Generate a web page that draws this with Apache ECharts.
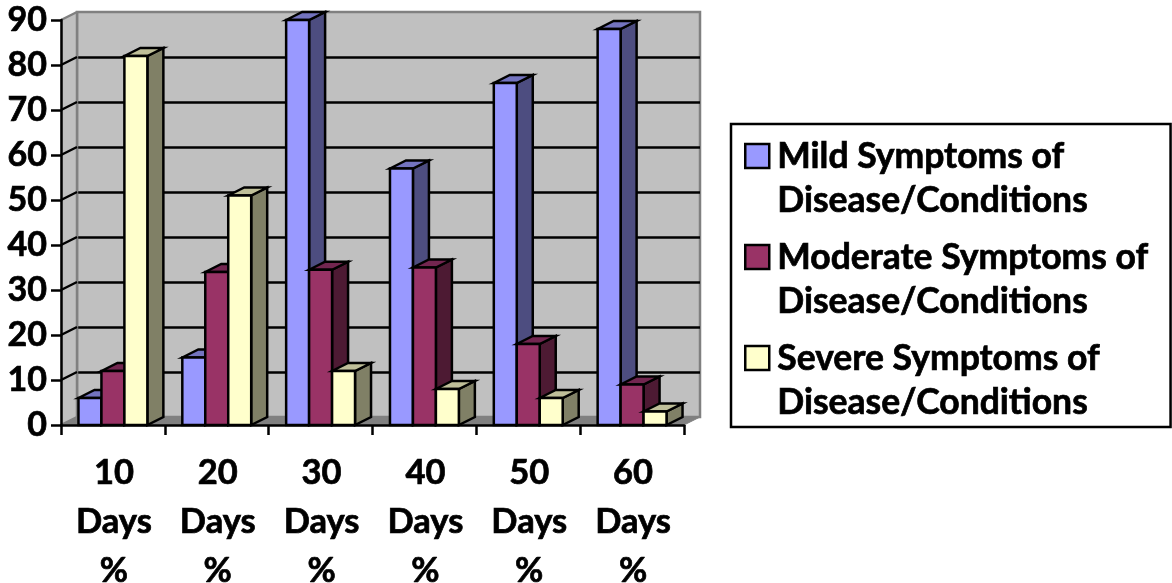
<!DOCTYPE html>
<html>
<head>
<meta charset="utf-8">
<title>Symptoms by days</title>
<script src="https://cdn.jsdelivr.net/npm/echarts@6/dist/echarts.min.js"></script>
<style>
  html, body { margin: 0; background: #fff; }
  #chart { width: 1172px; height: 583px; }
</style>
</head>
<body>
<div id="chart"></div>
<script>
var categories = ['10\nDays\n%', '20\nDays\n%', '30\nDays\n%', '40\nDays\n%', '50\nDays\n%', '60\nDays\n%'];
var mild = [6, 15, 90, 57, 76, 88];
var moderate = [12, 34, 34.5, 35, 18, 9];
var severe = [82, 51, 12, 8, 6, 3];
var yTicks = [0, 10, 20, 30, 40, 50, 60, 70, 80, 90];

var seriesNames = [
    'Mild Symptoms of\nDisease/Conditions',
    'Moderate Symptoms of\nDisease/Conditions',
    'Severe Symptoms of\nDisease/Conditions'
];
// front, side, top
var shades = [
    ['#9999ff', '#4d4d80', '#7373bf'],
    ['#993366', '#4d1a33', '#732650'],
    ['#ffffcc', '#808066', '#bfbf99']
];

var font = 'Lato, Carlito, sans-serif';
var depthX = 16, depthY = -8;
var barRatio = 23 / 104;

function poly(points, fill, stroke, width) {
    return {
        type: 'polygon',
        shape: { points: points },
        style: { fill: fill, stroke: stroke, lineWidth: width, lineJoin: 'miter' }
    };
}

function barRenderer(seriesIdx) {
    return function (params, api) {
        var top = api.coord([api.value(0), api.value(1)]);
        var base = api.coord([api.value(0), 0]);
        var w = api.size([1, 0])[0] * barRatio;
        var x0 = top[0] + (seriesIdx - 1.5) * w;
        var x1 = x0 + w;
        var c = shades[seriesIdx];
        return {
            type: 'group',
            children: [
                poly([[x1, top[1]], [x1 + depthX, top[1] + depthY], [x1 + depthX, base[1] + depthY], [x1, base[1]]], c[1], '#000', 2.5),
                poly([[x0, top[1]], [x0 + depthX, top[1] + depthY], [x1 + depthX, top[1] + depthY], [x1, top[1]]], c[2], '#000', 2.5),
                poly([[x0, top[1]], [x1, top[1]], [x1, base[1]], [x0, base[1]]], c[0], '#000', 2.5)
            ]
        };
    };
}

// side wall, floor and the slanted part of each grid line
function wallRenderer(params, api) {
    var v = api.value(0);
    var p = api.coord([0, v]);
    var cs = params.coordSys;
    var left = cs.x, right = cs.x + cs.width, bottom = cs.y + cs.height, top = cs.y;
    var children = [];
    if (params.dataIndex === 0) {
        children.push(poly([[left, top], [left + depthX, top + depthY], [left + depthX, bottom + depthY], [left, bottom]], '#c0c0c0', '#c0c0c0', 1));
        children.push(poly([[left, bottom], [left + depthX, bottom + depthY], [right + depthX, bottom + depthY], [right, bottom]], '#808080', '#808080', 1));
        children.push({
            type: 'line',
            shape: { x1: left + depthX, y1: top + depthY, x2: left + depthX, y2: bottom + depthY },
            style: { stroke: '#808080', lineWidth: 2.5 }
        });
    }
    children.push({
        type: 'line',
        shape: { x1: left, y1: p[1], x2: left + depthX, y2: p[1] + depthY },
        style: { stroke: v === 90 || v === 0 ? '#808080' : '#000', lineWidth: 2.5 }
    });
    return { type: 'group', children: children };
}

var hiddenAxis = { show: false };
var boldText = { color: '#000', fontFamily: font, fontWeight: 'bold', textBorderColor: '#000', textBorderWidth: 0.7 };

var option = {
    backgroundColor: '#fff',
    animation: false,
    grid: [
        { left: 61, top: 20, width: 623, height: 405, outerBoundsMode: 'none' },
        { left: 77, top: 12, width: 623, height: 405, outerBoundsMode: 'none', show: true, backgroundColor: '#c0c0c0', borderColor: '#808080', borderWidth: 2.5 }
    ],
    xAxis: [
        {
            type: 'category',
            gridIndex: 0,
            data: categories,
            z: 4,
            axisLine: { lineStyle: { color: '#000', width: 2.5 } },
            axisTick: { show: true, length: 10, lineStyle: { color: '#000', width: 2.5 } },
            axisLabel: Object.assign({ interval: 0, margin: 23, fontSize: 34.5, lineHeight: 49, padding: [0, 0, 0, 2] }, boldText)
        },
        { type: 'category', gridIndex: 1, data: categories, axisLine: hiddenAxis, axisTick: hiddenAxis, axisLabel: hiddenAxis }
    ],
    yAxis: [
        {
            type: 'value',
            gridIndex: 0,
            min: 0,
            max: 90,
            interval: 10,
            z: 4,
            splitLine: { show: false },
            axisLine: { show: true, lineStyle: { color: '#000', width: 2.5 } },
            axisTick: { show: true, length: 10, lineStyle: { color: '#000', width: 2.5 } },
            axisLabel: Object.assign({ margin: 14, fontSize: 34 }, boldText)
        },
        {
            type: 'value',
            gridIndex: 1,
            min: 0,
            max: 90,
            interval: 10,
            axisLine: hiddenAxis,
            axisTick: hiddenAxis,
            axisLabel: hiddenAxis,
            splitLine: { show: true, showMinLine: false, showMaxLine: false, lineStyle: { color: '#000', width: 2.5 } }
        }
    ],
    legend: {
        orient: 'vertical',
        left: 731,
        top: 124,
        data: seriesNames,
        padding: [11, 22, 2, 13],
        itemGap: 13,
        itemWidth: 24,
        itemHeight: 70,
        // square at the top of the icon box so it lines up with the first text line
        icon: 'path://M0 0H24V24H0Z M0 70',
        selectedMode: false,
        backgroundColor: '#fff',
        borderColor: '#000',
        borderWidth: 2.5,
        borderRadius: 0,
        itemStyle: { borderColor: '#000', borderWidth: 2.5 },
        textStyle: Object.assign({ fontSize: 35.5, lineHeight: 44, padding: [0, 0, 0, 3] }, boldText)
    },
    series: [
        {
            type: 'custom',
            name: 'walls',
            coordinateSystem: 'cartesian2d',
            xAxisIndex: 0,
            yAxisIndex: 0,
            z: 1,
            silent: true,
            clip: false,
            renderItem: wallRenderer,
            encode: { y: 0 },
            data: yTicks.map(function (v) { return [v]; })
        }
    ].concat([mild, moderate, severe].map(function (values, s) {
        return {
            type: 'custom',
            name: seriesNames[s],
            coordinateSystem: 'cartesian2d',
            xAxisIndex: 0,
            yAxisIndex: 0,
            z: 3,
            clip: false,
            itemStyle: { color: shades[s][0] },
            renderItem: barRenderer(s),
            encode: { x: 0, y: 1 },
            data: values.map(function (v, i) { return [i, v]; })
        };
    }))
};

echarts.init(document.getElementById('chart')).setOption(option);
</script>
</body>
</html>
